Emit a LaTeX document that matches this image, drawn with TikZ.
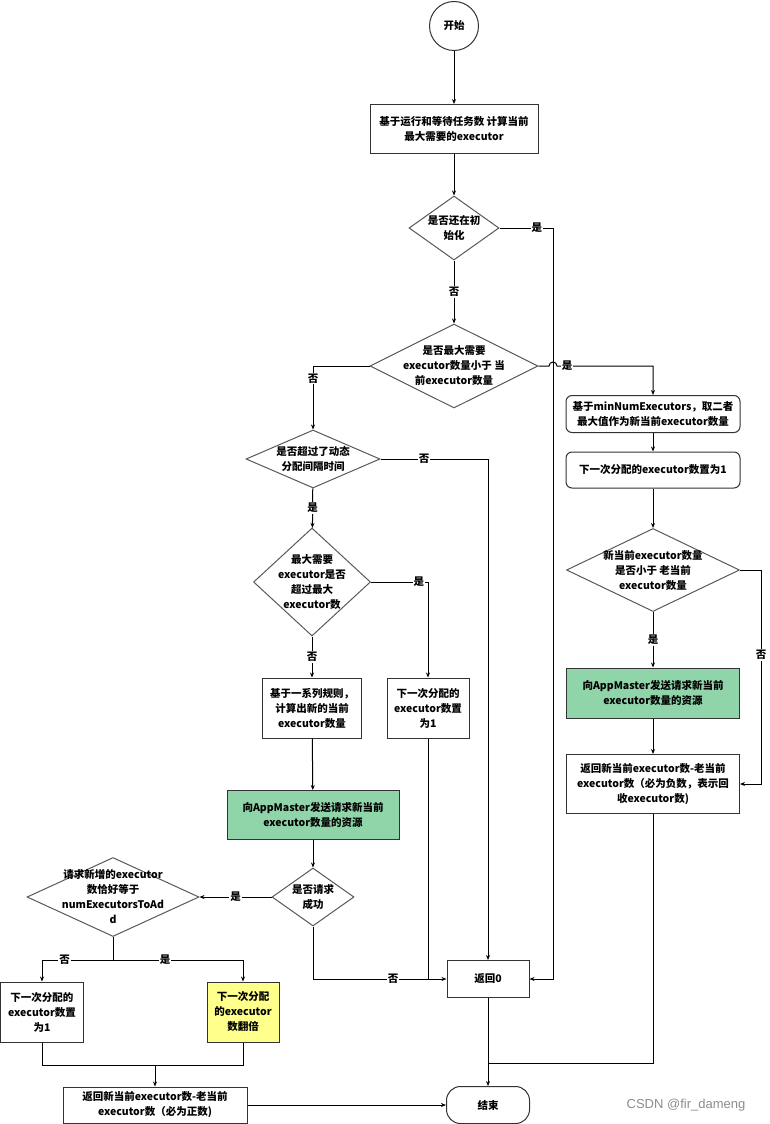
\documentclass[tikz,border=0pt]{standalone}
\usepackage{fontspec}
\setmainfont{Noto Sans CJK SC}
\usetikzlibrary{shapes.geometric,arrows.meta}

\definecolor{reqgreen}{RGB}{144,213,169}
\definecolor{dblyellow}{RGB}{255,255,140}

\begin{document}
\begin{tikzpicture}[x=1pt,y=-1pt,>={Stealth[length=5pt,width=4pt]},line width=1pt,
        every node/.style={font=\fontsize{10.5}{15}\selectfont\bfseries,align=center,inner sep=0pt},
        box/.style={rectangle,draw=black!80,fill=white},
        soft/.style={box,rounded corners=6pt},
        term/.style={draw=black!80,fill=white},
        decision/.style={diamond,draw=black!65,fill=white},
        lab/.style={fill=white,inner sep=1pt}]
        \useasboundingbox (0,0) rectangle (770,1124);

        % main column
        \node[term,circle,minimum size=49] (start) at (454,26) {开始};
        \node[box,minimum width=168,minimum height=49] (calc) at (454,129) {基于运行和等待任务数 计算当前\\最大需要的executor};
        \node[decision,minimum width=90,minimum height=64,label={center:{是否还在初\\始化}}] (init) at (454,228) {};
        \node[decision,minimum width=168,minimum height=84,label={center:{是否最大需要\\executor数量小于 当\\前executor数量}}] (less) at (454,366) {};

        % right column
        \node[soft,minimum width=174,minimum height=37] (minbox) at (653,414) {基于minNumExecutors，取二者\\最大值作为新当前executor数量};
        \node[soft,minimum width=174,minimum height=36] (nextone) at (653,470) {下一次分配的executor数置为1};
        \node[decision,minimum width=173,minimum height=83,label={center:{新当前executor数量\\是否小于 老当前\\executor数量}}] (newless) at (653,570) {};
        \node[box,fill=reqgreen,minimum width=173,minimum height=50] (reqR) at (653,693) {向AppMaster发送请求新当前\\executor数量的资源};
        \node[box,minimum width=173,minimum height=59] (retneg) at (653,784) {返回新当前executor数-老当前\\executor数（必为负数，表示回\\收executor数)};

        % left column
        \node[decision,minimum width=134,minimum height=58,label={center:{是否超过了动态\\分配间隔时间}}] (interval) at (313,459) {};
        \node[decision,minimum width=117,minimum height=108,label={center:{最大需要\\executor是否\\超过最大\\executor数}}] (exceed) at (312,582) {};
        \node[box,minimum width=99,minimum height=60] (rules) at (312,708) {基于一系列规则，\\计算出新的当前\\executor数量};
        \node[box,minimum width=82,minimum height=60] (nextoneM) at (428,708) {下一次分配的\\executor数置\\为1};
        \node[box,fill=reqgreen,minimum width=172,minimum height=49] (reqL) at (313,815) {向AppMaster发送请求新当前\\executor数量的资源};
        \node[decision,minimum width=82,minimum height=58,label={center:{是否请求\\成功}}] (success) at (313,897) {};
        \node[decision,minimum width=172,minimum height=79,label={center:{请求新增的executor\\数恰好等于\\numExecutorsToAd\\d}}] (exact) at (113,897) {};
        \node[box,minimum width=83,minimum height=60] (nextoneL) at (42,1012) {下一次分配的\\executor数置\\为1};
        \node[box,fill=dblyellow,minimum width=72,minimum height=60] (double) at (243,1012) {下一次分配\\的executor\\数翻倍};
        \node[box,minimum width=184,minimum height=36] (retpos) at (155,1105) {返回新当前executor数-老当前\\executor数（必为正数)};

        % bottom
        \node[box,minimum width=82,minimum height=37] (zero) at (488,979) {返回0};
        \node[term,rounded corners=14pt,minimum width=83,minimum height=37] (end) at (488,1105) {结束};
        \node[font=\fontspec{Liberation Sans}\fontsize{13}{13}\selectfont,text=black!45] (mark) at (686,1105) {CSDN @fir\_dameng};

        % straight connectors
        \path[->] (start) edge (calc)
                  (calc) edge (init)
                  (init) edge node [lab] {否} (less)
                  (interval) edge node [lab] {是} (exceed)
                  (exceed) edge node [lab] {否} (rules)
                  (rules) edge (reqL)
                  (reqL) edge (success)
                  (success) edge node [lab] {是} (exact)
                  (minbox) edge (nextone)
                  (nextone) edge (newless)
                  (newless) edge node [lab] {是} (reqR)
                  (reqR) edge (retneg)
                  (retpos) edge (end)
                  (zero) edge (end);

        % elbow connectors
        \draw[->] (init.east) -- (553,228) node [lab,pos=0.7] {是} |- (zero.east);
        \draw[->] (less.east) -- (549,366) arc[start angle=180,end angle=360,radius=4] -- (minbox.north |- less.east) -- (minbox.north);
        \node[lab] at (567,366) {是};
        \draw[->] (less.west) -| node [lab,pos=0.6] {否} (interval.north);
        \draw[->] (interval.east) -| (zero.north);
        \node[lab] at (424,459) {否};
        \draw[->] (exceed.east) -| node [lab,pos=0.42] {是} (nextoneM.north);
        \draw (nextoneM.south) -- (nextoneM.south |- zero.west);
        \draw[->] (success.south) |- node [lab,pos=0.8] {否} (zero.west);
        \draw[->] (newless.east) -| (761,660) |- (retneg.east);
        \node[lab] at (761,655) {否};
        \coordinate (split) at (113,960);
        \draw (exact.south) -- (split);
        \draw[->] (split) -| node [lab,pos=0.34] {否} (nextoneL.north);
        \draw[->] (split) -| node [lab,pos=0.2] {是} (double.north);
        \coordinate (merge) at (155,1065);
        \draw (nextoneL.south) |- (merge) -| (double.south);
        \draw[->] (merge) -- (retpos.north);
        \draw (retneg.south) |- (488,1063);
\end{tikzpicture}
\end{document}
